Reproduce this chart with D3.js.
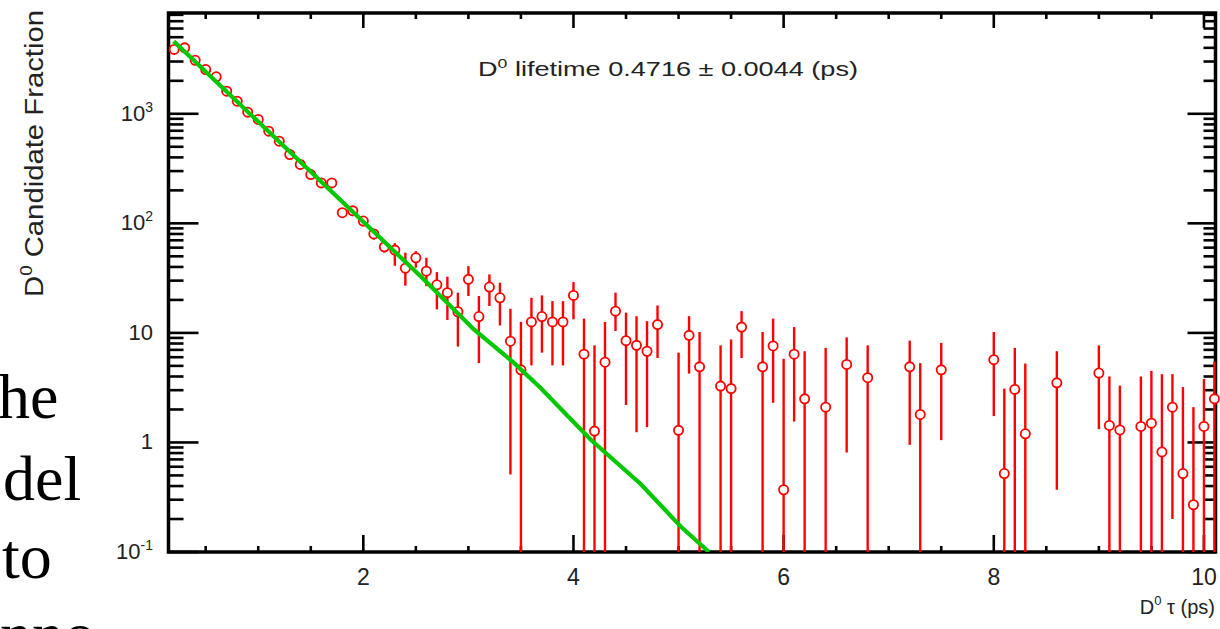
<!DOCTYPE html>
<html>
<head>
<meta charset="utf-8">
<script src="https://cdn.jsdelivr.net/npm/d3@7"></script>
<style>
  html, body { margin: 0; padding: 0; background: #fff; }
  svg { display: block; }
</style>
</head>
<body>
<svg id="chart" width="1220" height="629"></svg>
<script>
// ---------------- data ----------------
const tau = [0.2,0.3,0.4,0.5,0.6,0.7,0.8,0.9,1.0,1.1,1.2,1.3,1.4,1.5,1.6,1.7,1.8,1.9,2.0,
  2.1,2.2,2.3,2.4,2.5,2.6,2.7,2.8,2.9,3.0,3.1,3.2,3.3,3.4,3.5,3.6,3.7,3.8,3.9,4.0,
  4.1,4.2,4.3,4.4,4.5,4.6,4.7,4.8,5.0,5.1,5.2,5.4,5.5,5.6,5.8,5.9,6.0,6.1,6.2,6.4,
  6.6,6.8,7.2,7.3,7.5,8.0,8.1,8.2,8.3,8.6,9.0,9.1,9.2,9.4,9.5,9.6,9.7,9.8,9.9,10.0,10.1];
const counts = [3870,4000,3080,2535,2175,1608,1303,1035,888,694,562,425,345,279,234,234,125,130,105,
  80,61,57,39,48.5,36.6,27.5,23.3,15.6,30.8,14.1,26.2,20.9,8.4,4.6,12.6,14.1,12.6,12.6,22,
  6.4,1.27,5.4,15.8,8.5,7.7,6.8,11.9,1.29,9.5,4.9,3.27,3.1,11.3,4.9,7.6,0.37,6.4,2.5,2.1,
  5.15,3.9,4.9,1.8,4.6,5.7,0.52,3.05,1.2,3.5,4.3,1.43,1.3,1.4,1.5,0.82,2.1,0.52,0.27,1.4,2.5];
const errLow = [3750,3880,2980,2450,2100,1550,1250,990,850,660,530,400,322,258,215,215,112,118,94,
  71,54,41,27,39.4,26.7,16.4,13.1,7.5,21.7,5.3,17.6,11.7,0.51,0.01,5.05,6.6,5.05,5.05,13.3,
  0.01,0.01,0.01,10.4,2.2,1.24,1.38,5.9,0.01,4.25,0.01,0.01,0.01,5.9,0.01,2.3,0.01,1.55,0.01,0.01,
  0.81,0.01,0.95,0.01,1.05,1.74,0.01,0.01,0.01,0.37,1.32,0.01,0.01,0.01,0.01,0.01,0.2,0.01,0.01,0.01,0.01];
const errHigh = [3990,4120,3180,2620,2250,1670,1360,1080,930,730,595,450,368,300,253,253,138,144,116,
  89,70,66,54,55.7,48.5,35.9,32.6,23.3,40.7,21.7,34.2,28.7,16.6,12.6,20.9,22,19.5,19.5,29.1,
  13.5,7.7,12.6,23.3,15.3,14.2,12.8,17.8,6.6,14.2,10.2,7.7,8.7,15.8,10.2,13.5,5.8,11.3,6.8,7.3,
  9.1,7.7,8.5,5.3,8.1,10.2,3.1,7.3,5.25,6.8,7.7,4.0,3.3,4.0,4.5,4.2,4.2,3.2,2.1,3.8,5.5];

// exponential fit line
const fitTau = [0.196,1.877,2.543,3.05,3.431,3.685,4.16,4.637,5.018,5.29];
const fitVal = [4590,134,33,10.8,5.35,3.16,1.07,0.42,0.172,0.1];

// axes
const xMajorTicks = [2,4,6,8,10];
const xMajorLabels = ["2","4","6","8","10"];
const xMinorTicks = [0.5,1,1.5,2.5,3,3.5,4.5,5,5.5,6.5,7,7.5,8.5,9,9.5];
const yMajorTicks = [0.1,1,10,100,1000];
const yLabelBase = ["10","1","10","10","10"];
const yLabelSup = ["-1","","","2","3"];
const xDomain = [0.146, 10.11];
const yDomain = [0.1, 8318];

const titleMain = "D";
const titleSup = "0";
const titleRest = " lifetime 0.4716 \u00b1 0.0044 (ps)";
const yTitle = ["D", "0", " Candidate Fraction"];
const xTitle = ["D", "0", " \u03c4 (ps)"];
const sideText = ["he", "del", "to", "nno"];

// ---------------- drawing ----------------
const svg = d3.select("#chart");
const L = 168.5, R = 1215.5, T = 13, B = 552;
const x = d3.scaleLinear().domain(xDomain).range([L, R]);
const y = d3.scaleLog().domain(yDomain).range([B, T]);
const sans = "'Liberation Sans', Arial, Helvetica, sans-serif";
const txtCol = "#222";

svg.append("rect").attr("width",1220).attr("height",629).attr("fill","#fff");

// side fragments of serif page text
const sideX = [-2, 3, 2, 0], sideY = [418, 500, 578, 656];
svg.selectAll("text.side").data(sideText).join("text")
  .attr("class","side")
  .attr("x",(d,i)=>sideX[i]).attr("y",(d,i)=>sideY[i])
  .attr("font-family","'Liberation Serif', 'Times New Roman', serif")
  .attr("font-size",64).attr("fill","#000").text(d=>d);

const axG = svg.append("g");
const tickW = 2.6;
// y ticks (left & right)
const yMinor = y.ticks().filter(v => !yMajorTicks.some(m => Math.abs(m - v) / m < 1e-6));
yMajorTicks.forEach(v => {
  axG.append("line").attr("x1",L).attr("x2",L+30).attr("y1",y(v)).attr("y2",y(v))
    .attr("stroke","#000").attr("stroke-width",tickW);
  axG.append("line").attr("x1",R).attr("x2",R-28).attr("y1",y(v)).attr("y2",y(v))
    .attr("stroke","#000").attr("stroke-width",tickW);
});
yMinor.forEach(v => {
  axG.append("line").attr("x1",L).attr("x2",L+15).attr("y1",y(v)).attr("y2",y(v))
    .attr("stroke","#000").attr("stroke-width",tickW);
  axG.append("line").attr("x1",R).attr("x2",R-12).attr("y1",y(v)).attr("y2",y(v))
    .attr("stroke","#000").attr("stroke-width",tickW);
});
// x ticks (bottom & top)
xMajorTicks.forEach(v => {
  axG.append("line").attr("x1",x(v)).attr("x2",x(v)).attr("y1",B).attr("y2",B-17)
    .attr("stroke","#000").attr("stroke-width",tickW);
  axG.append("line").attr("x1",x(v)).attr("x2",x(v)).attr("y1",T).attr("y2",T+15)
    .attr("stroke","#000").attr("stroke-width",tickW);
});
xMinorTicks.forEach(v => {
  axG.append("line").attr("x1",x(v)).attr("x2",x(v)).attr("y1",B).attr("y2",B-6)
    .attr("stroke","#000").attr("stroke-width",tickW);
  axG.append("line").attr("x1",x(v)).attr("x2",x(v)).attr("y1",T).attr("y2",T+6)
    .attr("stroke","#000").attr("stroke-width",tickW);
});
// frame
axG.append("rect").attr("x",L).attr("y",T).attr("width",R-L).attr("height",B-T)
  .attr("fill","none").attr("stroke","#000").attr("stroke-width",3.5);

// y tick labels
yMajorTicks.forEach((v,i) => {
  const t = axG.append("text").attr("x",153).attr("y",y(v)+7)
    .attr("text-anchor","end").attr("font-family",sans).attr("font-size",22).attr("fill",txtCol);
  t.append("tspan").text(yLabelBase[i]);
  if (yLabelSup[i]) t.append("tspan").attr("dy",-9).attr("font-size",14).text(yLabelSup[i]);
});
// x tick labels
xMajorTicks.forEach((v,i) => {
  axG.append("text").attr("x",x(v)).attr("y",585).attr("text-anchor","middle")
    .attr("font-family",sans).attr("font-size",23).attr("fill",txtCol).text(xMajorLabels[i]);
});

// axis titles
const yt = svg.append("text").attr("transform","translate(43,297) rotate(-90)")
  .attr("font-family",sans).attr("font-size",25).attr("fill",txtCol)
  .attr("textLength",287).attr("lengthAdjust","spacingAndGlyphs");
yt.append("tspan").text(yTitle[0]);
yt.append("tspan").attr("dy",-11).attr("font-size",16).text(yTitle[1]);
yt.append("tspan").attr("dy",11).text(yTitle[2]);

const xt = svg.append("text").attr("x",1215).attr("y",614).attr("text-anchor","end")
  .attr("font-family",sans).attr("font-size",20).attr("fill",txtCol);
xt.append("tspan").text(xTitle[0]);
xt.append("tspan").attr("dy",-9).attr("font-size",13).text(xTitle[1]);
xt.append("tspan").attr("dy",9).text(xTitle[2]);

// title
const tt = svg.append("text").attr("x",478).attr("y",76)
  .attr("font-family",sans).attr("font-size",20).attr("fill",txtCol)
  .attr("textLength",380).attr("lengthAdjust","spacingAndGlyphs");
tt.append("tspan").text(titleMain);
tt.append("tspan").attr("dy",-8).attr("font-size",13).text(titleSup);
tt.append("tspan").attr("dy",8).text(titleRest);

// data: error bars, markers
const pts = tau.map((t,i)=>({t, c:counts[i], lo:errLow[i], hi:errHigh[i]}));
const red = "#ff0000";
const dataG = svg.append("g");
dataG.selectAll("line.err").data(pts).join("line").attr("class","err")
  .attr("x1",d=>x(d.t)).attr("x2",d=>x(d.t))
  .attr("y1",d=>y(Math.max(d.lo, yDomain[0]))).attr("y2",d=>y(Math.min(d.hi, yDomain[1])))
  .attr("stroke",red).attr("stroke-width",2.4);
dataG.selectAll("circle").data(pts).join("circle")
  .attr("cx",d=>x(d.t)).attr("cy",d=>y(d.c)).attr("r",4.6)
  .attr("fill","#fff").attr("stroke",red).attr("stroke-width",1.8);

// fit line
svg.append("clipPath").attr("id","plotclip").append("rect")
  .attr("x",L).attr("y",T).attr("width",R-L).attr("height",B-T);
const fit = fitTau.map((t,i)=>[t, fitVal[i]]);
svg.append("path").datum(fit).attr("clip-path","url(#plotclip)")
  .attr("d", d3.line().x(d=>x(d[0])).y(d=>y(d[1])))
  .attr("fill","none").attr("stroke","#00c800").attr("stroke-width",4.2);
</script>
</body>
</html>
